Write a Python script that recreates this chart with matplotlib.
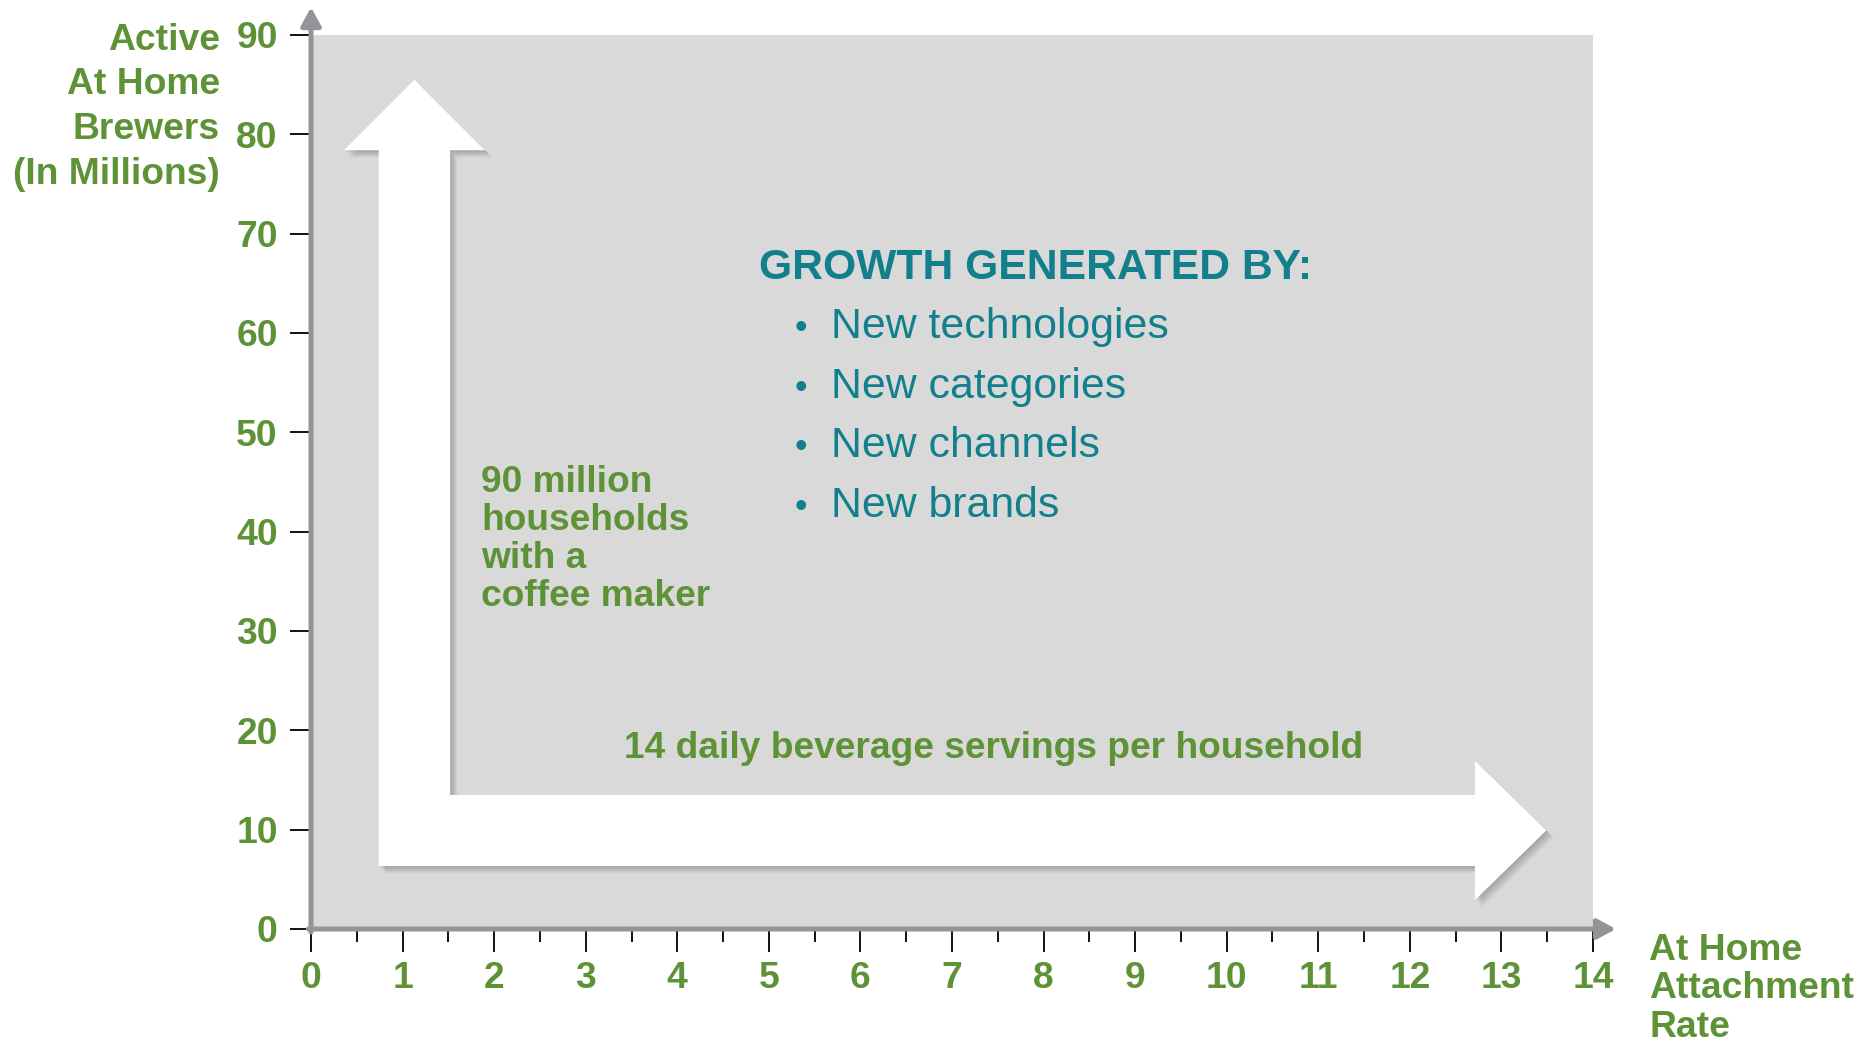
import matplotlib
matplotlib.use("Agg")
import matplotlib.pyplot as plt
import matplotlib.transforms as mtransforms
from matplotlib.patches import Polygon
from matplotlib.ticker import MultipleLocator

W, H = 1866, 1044
GREEN = '#5E9237'
TEAL = '#12808C'
AXIS_GRAY = '#939399'

# Chart content
x_ticks = list(range(0, 15))
y_ticks = list(range(0, 100, 10))
y_label_lines = ["Active", "At Home", "Brewers", "(In Millions)"]
x_label_lines = ["At Home", "Attachment", "Rate"]
households_lines = ["90 million", "households", "with a", "coffee maker"]
servings_text = "14 daily beverage servings per household"
heading = "GROWTH GENERATED BY:"
bullets = ["New technologies", "New categories", "New channels", "New brands"]

# L-shaped growth arrow outline (axis units)
arrow_x = [1.13, 1.90, 1.52, 1.52, 12.71, 12.71, 13.49, 12.71, 12.71, 0.74, 0.74, 0.36]
arrow_y = [85.5, 78.4, 78.4, 13.49, 13.49, 16.95, 9.92, 2.90, 6.34, 6.34, 78.4, 78.4]

plt.rcParams['font.family'] = ['Liberation Sans', 'DejaVu Sans']

fig = plt.figure(figsize=(W / 100, H / 100), dpi=100)
ax = fig.add_axes([311 / W, 1 - 929 / H, (1593 - 311) / W, (929 - 35) / H])
ax.set_xlim(0, 14)
ax.set_ylim(0, 90)
ax.set_facecolor('#D9D9D9')
for s in ax.spines.values():
    s.set_visible(False)

ax.set_xticks(x_ticks, labels=[str(v) for v in x_ticks], fontweight='bold')
ax.set_yticks(y_ticks, labels=[str(v) for v in y_ticks], fontweight='bold')
ax.xaxis.set_minor_locator(MultipleLocator(0.5))
ax.tick_params(axis='x', which='major', length=16.5, width=1.3, color='black',
               pad=6.5, labelsize=26.8, labelcolor=GREEN)
ax.tick_params(axis='x', which='minor', length=9.5, width=1.3, color='black')
ax.tick_params(axis='y', which='major', length=15, width=1.3, color='black',
               pad=9, labelsize=26.8, labelcolor=GREEN)

# axis lines with arrow heads
arrow_style = dict(arrowstyle='-|>,head_length=0.55,head_width=0.3', lw=3.6,
                   color=AXIS_GRAY, shrinkA=0, shrinkB=0, mutation_scale=20)
ax.annotate('', xy=(0, 92.8), xytext=(0, -0.3), arrowprops=arrow_style,
            annotation_clip=False, zorder=5)
ax.annotate('', xy=(14.25, 0), xytext=(-0.03, 0), arrowprops=arrow_style,
            annotation_clip=False, zorder=5)

# big white L arrow with soft drop shadow
verts = list(zip(arrow_x, arrow_y))
for k in range(1, 9):
    tr = mtransforms.offset_copy(ax.transData, fig=fig, x=k * 0.9, y=-k * 0.9, units='dots')
    ax.add_patch(Polygon(verts, closed=True, facecolor='black', edgecolor='none',
                         alpha=0.03, transform=tr, zorder=2))
ax.add_patch(Polygon(verts, closed=True, facecolor='white', edgecolor='none', zorder=3))

pix = mtransforms.IdentityTransform()


def put(px, py, s, **kw):
    fig.text(px, H - py, s, transform=pix, va='baseline', **kw)


for i, line in enumerate(y_label_lines):
    put(220, 50 + i * 44.5, line, ha='right', fontsize=26.8, fontweight='bold', color=GREEN)
for i, line in enumerate(x_label_lines):
    put(1649, 960 + i * 38.5, line, ha='left', fontsize=26.8, fontweight='bold', color=GREEN)
for i, line in enumerate(households_lines):
    put(481, 492 + i * 38, line, ha='left', fontsize=26.7, fontweight='bold', color=GREEN, zorder=6)
put(994, 758, servings_text, ha='center', fontsize=26.7, fontweight='bold', color=GREEN, zorder=6)

put(759, 279, heading, ha='left', fontsize=30.7, fontweight='bold', color=TEAL, zorder=6)
for i, b in enumerate(bullets):
    put(801, 338 + i * 59.7, '\u2022', ha='center', fontsize=26, color=TEAL, zorder=6)
    put(831, 338 + i * 59.7, b, ha='left', fontsize=30.8, color=TEAL, zorder=6)

fig.savefig('out.png', dpi=100)
